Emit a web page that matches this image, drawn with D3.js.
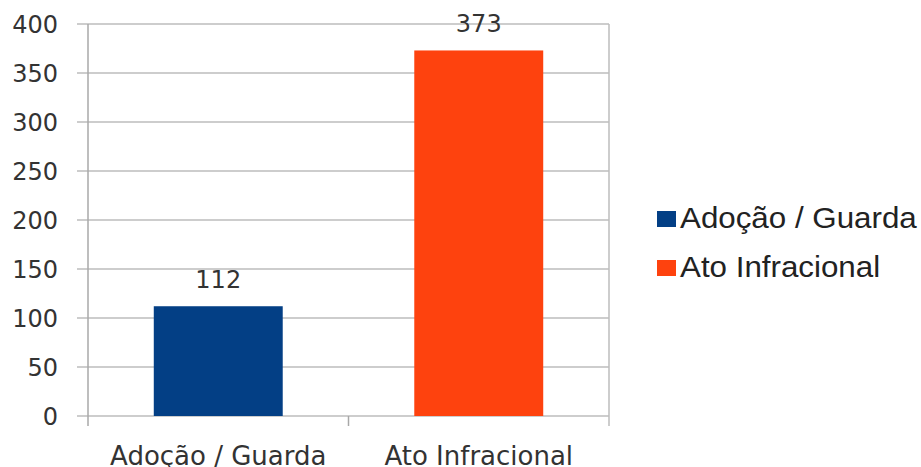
<!DOCTYPE html>
<html>
<head>
<meta charset="utf-8">
<script src="https://cdn.jsdelivr.net/npm/d3@7"></script>
<style>
  body { margin: 0; background: #fff; }
</style>
</head>
<body>
<div id="chart"></div>
<script>
// data
const categories = ["Adoção / Guarda", "Ato Infracional"];
const values = [112, 373];
const colors = ["#033f85", "#fe420e"];
const yTicks = [0, 50, 100, 150, 200, 250, 300, 350, 400];

const W = 921, H = 467;
const plotL = 88, plotR = 609, plotT = 24, plotB = 416;

const svg = d3.select("#chart").append("svg")
    .attr("width", W)
    .attr("height", H);

const x = d3.scaleBand()
    .domain(categories)
    .range([plotL, plotR])
    .paddingInner(0.505)
    .paddingOuter(0.2525);

const band = d3.scaleBand().domain(categories).range([plotL, plotR]); // for ticks

const y = d3.scaleLinear()
    .domain([0, 400])
    .range([plotB, plotT]);

// gridlines
svg.append("g")
    .selectAll("line")
    .data(yTicks)
    .join("line")
    .attr("x1", plotL - 11)
    .attr("x2", plotR)
    .attr("y1", d => y(d))
    .attr("y2", d => y(d))
    .attr("stroke", "#bdbdbd")
    .attr("stroke-width", 1.5);

// right border
svg.append("line")
    .attr("x1", plotR).attr("x2", plotR)
    .attr("y1", plotT).attr("y2", plotB + 10)
    .attr("stroke", "#bdbdbd").attr("stroke-width", 1.5);

// y axis line
svg.append("line")
    .attr("x1", plotL).attr("x2", plotL)
    .attr("y1", plotT).attr("y2", plotB + 10)
    .attr("stroke", "#a8a8a8").attr("stroke-width", 1.5);

// category separator tick
svg.append("line")
    .attr("x1", band(categories[1])).attr("x2", band(categories[1]))
    .attr("y1", plotB).attr("y2", plotB + 10)
    .attr("stroke", "#a8a8a8").attr("stroke-width", 1.5);

// y tick labels
svg.append("g")
    .selectAll("text")
    .data(yTicks)
    .join("text")
    .attr("x", 58)
    .attr("y", d => y(d) + 9)
    .attr("text-anchor", "end")
    .attr("font-family", "DejaVu Sans, Verdana, sans-serif")
    .attr("font-size", 24)
    .attr("fill", "#333")
    .text(d => d);

// bars
svg.append("g")
    .selectAll("rect")
    .data(values)
    .join("rect")
    .attr("x", (d, i) => x(categories[i]))
    .attr("y", d => y(d))
    .attr("width", x.bandwidth())
    .attr("height", d => y(0) - y(d))
    .attr("fill", (d, i) => colors[i]);

// value labels
svg.append("g")
    .selectAll("text")
    .data(values)
    .join("text")
    .attr("x", (d, i) => x(categories[i]) + x.bandwidth() / 2)
    .attr("y", d => y(d) - 18.5)
    .attr("text-anchor", "middle")
    .attr("font-family", "DejaVu Sans, Verdana, sans-serif")
    .attr("font-size", 24)
    .attr("fill", "#333")
    .text(d => d);

// category labels
svg.append("g")
    .selectAll("text")
    .data(categories)
    .join("text")
    .attr("x", d => band(d) + band.bandwidth() / 2)
    .attr("y", 465)
    .attr("text-anchor", "middle")
    .attr("font-family", "DejaVu Sans, Verdana, sans-serif")
    .attr("font-size", 26)
    .attr("fill", "#333")
    .text(d => d);

// legend
const legend = svg.append("g")
    .selectAll("g")
    .data(categories)
    .join("g")
    .attr("transform", (d, i) => `translate(657, ${228 + i * 49})`);

legend.append("rect")
    .attr("x", 0).attr("y", -17)
    .attr("width", 19).attr("height", 16)
    .attr("fill", (d, i) => colors[i]);

legend.append("text")
    .attr("transform", "translate(23,0) scale(1.08,1)")
    .attr("font-family", "Liberation Sans, Arial, sans-serif")
    .attr("font-size", 29)
    .attr("fill", "#222")
    .text(d => d);
</script>
</body>
</html>
